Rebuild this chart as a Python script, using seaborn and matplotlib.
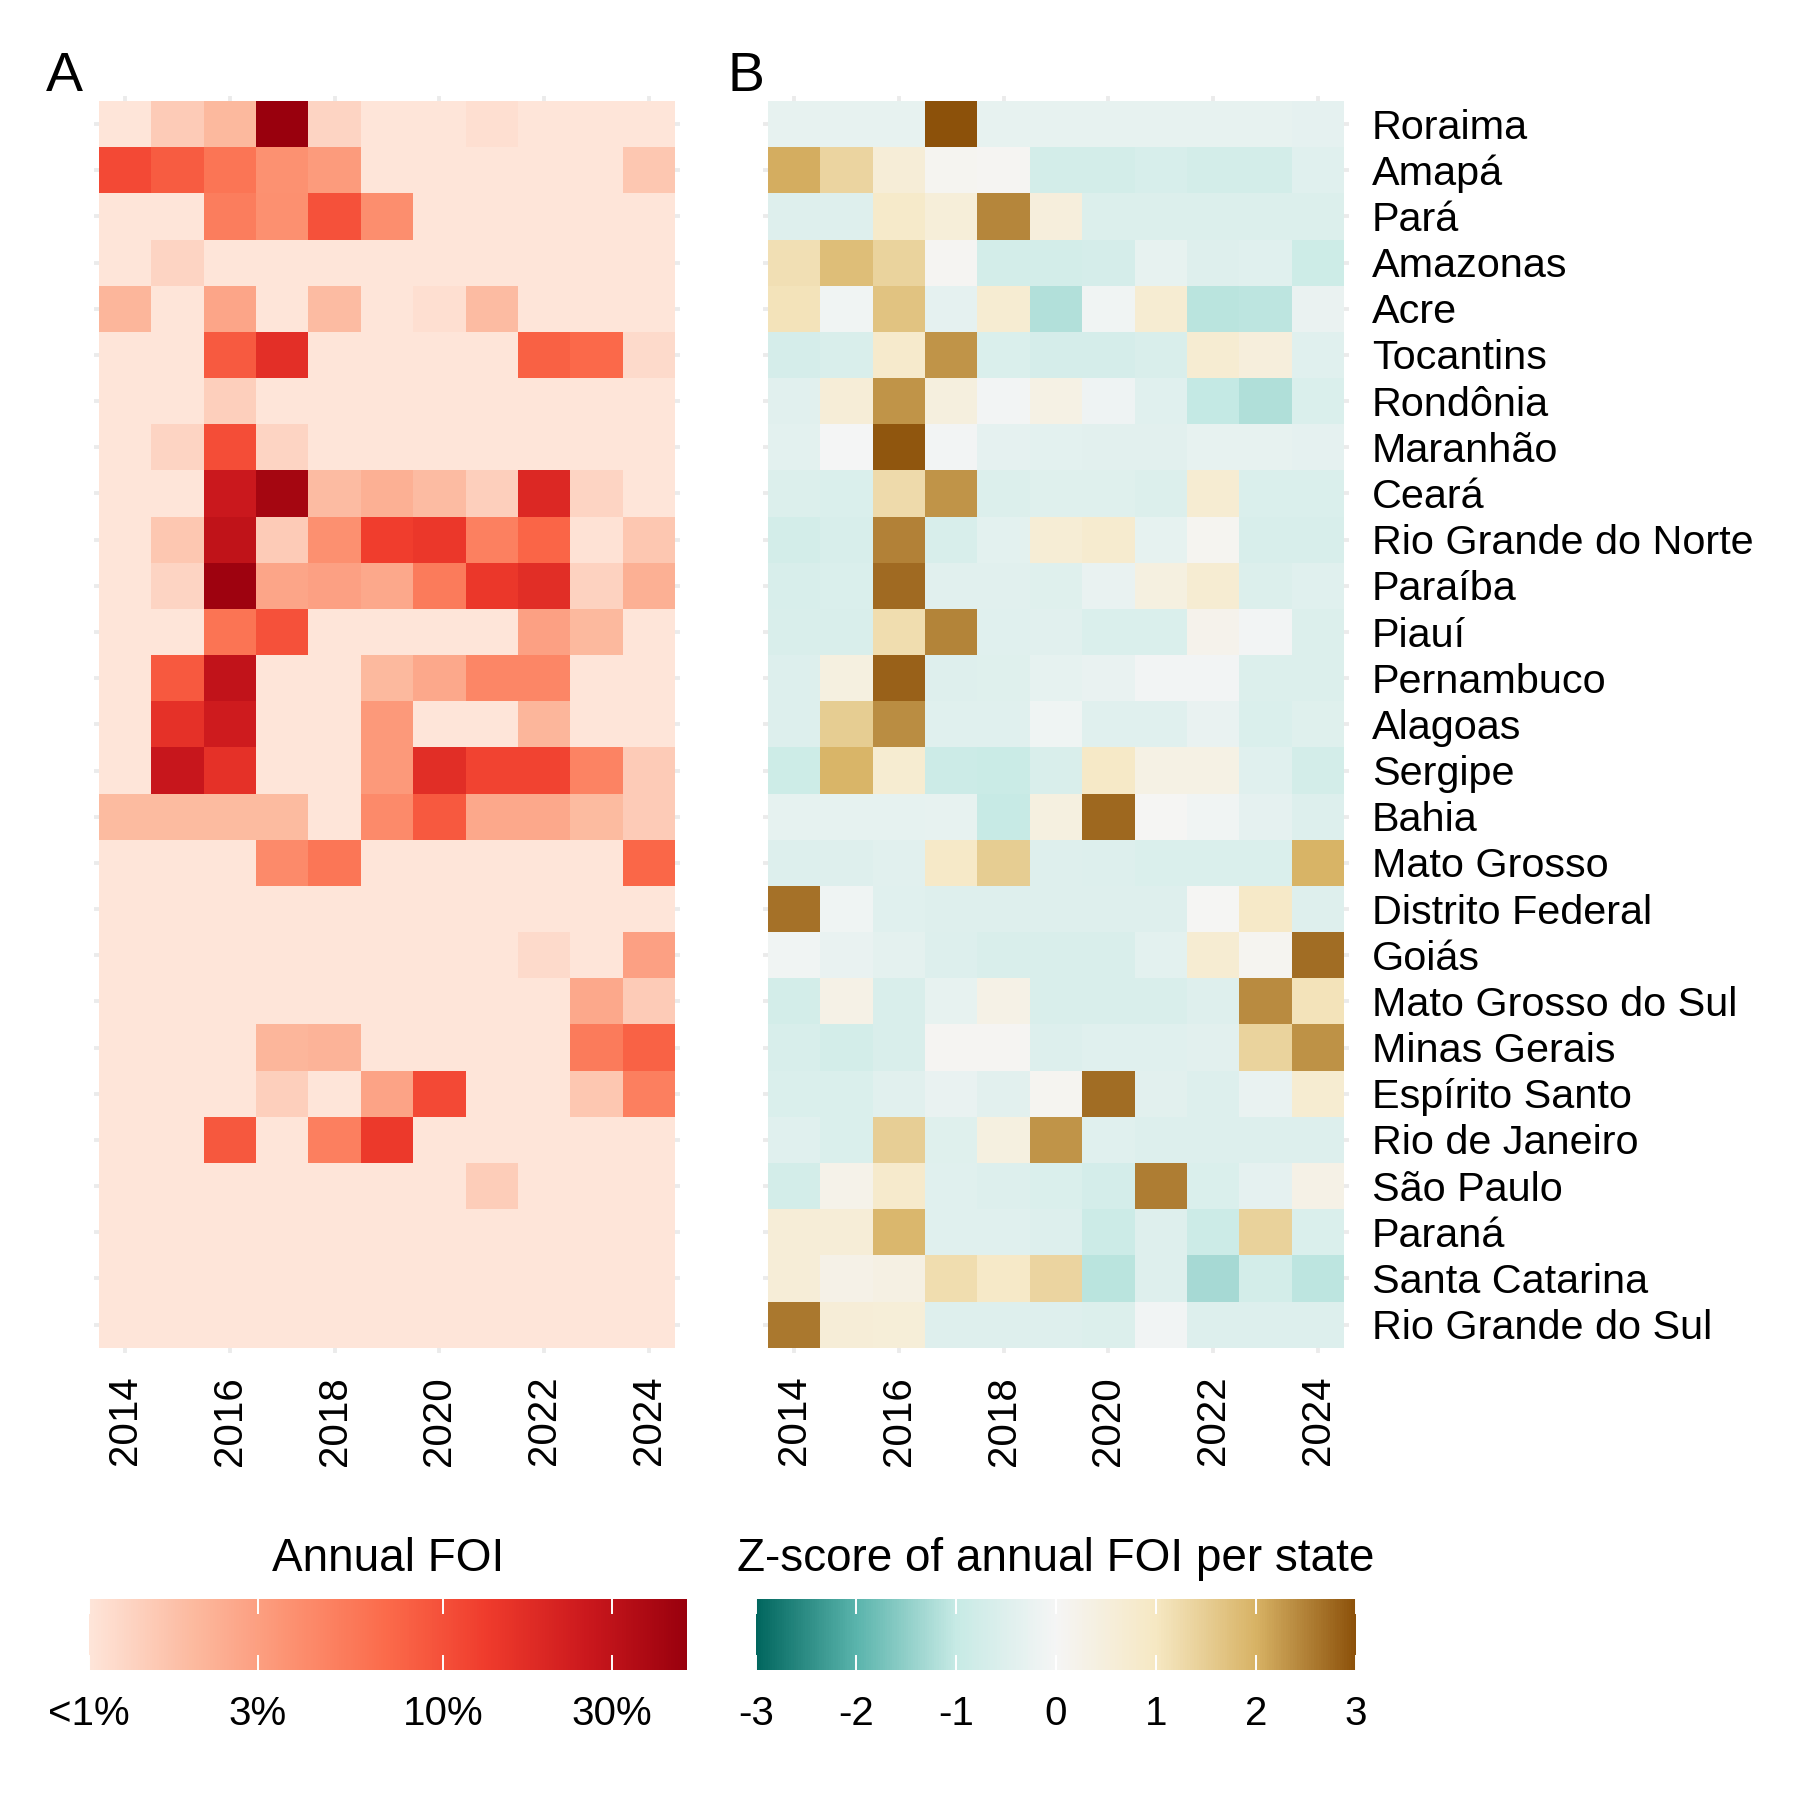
import numpy as np
import pandas as pd
import matplotlib
matplotlib.use("Agg")
import matplotlib.pyplot as plt
import matplotlib.transforms as mtransforms
import seaborn as sns
from matplotlib.colors import LinearSegmentedColormap, LogNorm, Normalize

plt.rcParams['font.family'] = ['Liberation Sans', 'DejaVu Sans']

years = list(range(2014, 2025))
states = ["Roraima", "Amapá", "Pará", "Amazonas", "Acre", "Tocantins", "Rondônia",
          "Maranhão", "Ceará", "Rio Grande do Norte", "Paraíba", "Piauí", "Pernambuco",
          "Alagoas", "Sergipe", "Bahia", "Mato Grosso", "Distrito Federal", "Goiás",
          "Mato Grosso do Sul", "Minas Gerais", "Espírito Santo", "Rio de Janeiro",
          "São Paulo", "Paraná", "Santa Catarina", "Rio Grande do Sul"]

L = 0.5  # below 1 %
# annual FOI in percent, one row per state (2014..2024)
foi_pct = [
    [L, 1.5, 2.0, 49, 1.3, L, L, 1.1, L, L, L],
    [11, 8.5, 5.9, 3.7, 3.2, L, L, L, L, L, 1.6],
    [L, L, 5.1, 3.8, 9.9, 3.9, L, L, L, L, L],
    [L, 1.3, L, L, L, L, L, L, L, L, L],
    [2.1, L, 2.7, L, 1.9, L, 1.1, 1.9, L, L, L],
    [L, L, 8.7, 16.6, L, L, L, L, 8.0, 7.0, 1.2],
    [L, L, 1.4, L, L, L, L, L, L, L, L],
    [L, 1.3, 10.5, 1.3, L, L, L, L, L, L, L],
    [L, L, 25.6, 42, 1.9, 2.3, 1.9, 1.4, 19, 1.3, L],
    [L, 1.6, 29.6, 1.5, 3.8, 13, 14.4, 4.9, 7.5, 1.05, 1.6],
    [L, 1.3, 46, 2.7, 2.9, 2.6, 5.3, 14.5, 17, 1.35, 2.3],
    [L, L, 6.0, 9.9, L, L, L, L, 2.9, 2.0, L],
    [L, 8.8, 29, L, L, 2.0, 2.6, 4.5, 4.5, L, L],
    [L, 16, 24, L, L, 3.3, L, L, 2.1, L, L],
    [L, 27, 16, L, L, 3.3, 17, 12, 12, 4.7, 1.5],
    [1.95, 1.95, 1.95, 1.95, L, 4.2, 8.8, 2.6, 2.6, 1.95, 1.5],
    [L, L, L, 4.2, 5.8, L, L, L, L, L, 7.3],
    [L, L, L, L, L, L, L, L, L, L, L],
    [L, L, L, L, L, L, L, L, 1.2, L, 2.9],
    [L, L, L, L, L, L, L, L, L, 2.6, 1.5],
    [L, L, L, 2.1, 2.2, L, L, L, L, 5.3, 7.8],
    [L, L, L, 1.4, L, 2.8, 11, L, L, 1.6, 5.0],
    [L, L, 9.0, L, 5.0, 14, L, L, L, L, L],
    [L, L, L, L, L, L, L, 1.45, L, L, L],
    [L, L, L, L, L, L, L, L, L, L, L],
    [L, L, L, L, L, L, L, L, L, L, L],
    [L, L, L, L, L, L, L, L, L, L, L],
]

# z-score of annual FOI per state (2014..2024)
zscore = [
    [-0.3, -0.3, -0.3, 3.0, -0.3, -0.3, -0.3, -0.3, -0.3, -0.3, -0.35],
    [2.05, 1.38, 0.6, 0.1, 0.05, -0.75, -0.75, -0.65, -0.75, -0.75, -0.45],
    [-0.5, -0.5, 0.85, 0.55, 2.45, 0.5, -0.55, -0.55, -0.55, -0.55, -0.55],
    [1.15, 1.8, 1.4, 0.05, -0.75, -0.75, -0.7, -0.3, -0.5, -0.45, -0.85],
    [1.1, -0.1, 1.7, -0.35, 0.7, -1.18, -0.1, 0.7, -1.12, -1.1, -0.25],
    [-0.7, -0.6, 0.8, 2.3, -0.57, -0.7, -0.7, -0.6, 0.7, 0.5, -0.45],
    [-0.43, 0.6, 2.3, 0.45, -0.05, 0.35, -0.15, -0.45, -1.03, -1.2, -0.58],
    [-0.38, -0.02, 2.95, -0.05, -0.33, -0.38, -0.4, -0.4, -0.3, -0.3, -0.35],
    [-0.55, -0.58, 1.25, 2.3, -0.55, -0.48, -0.48, -0.55, 0.7, -0.57, -0.58],
    [-0.75, -0.63, 2.5, -0.63, -0.38, 0.65, 0.75, -0.32, 0.1, -0.62, -0.62],
    [-0.62, -0.58, 2.72, -0.43, -0.43, -0.47, -0.27, 0.4, 0.68, -0.55, -0.45],
    [-0.6, -0.6, 1.2, 2.48, -0.45, -0.43, -0.57, -0.57, 0.2, -0.05, -0.55],
    [-0.53, 0.4, 2.82, -0.5, -0.48, -0.32, -0.26, -0.05, -0.05, -0.55, -0.55],
    [-0.53, 1.52, 2.38, -0.45, -0.45, -0.12, -0.45, -0.45, -0.28, -0.57, -0.48],
    [-0.85, 1.95, 0.72, -0.87, -0.93, -0.6, 0.92, 0.35, 0.35, -0.45, -0.75],
    [-0.32, -0.32, -0.32, -0.3, -1.0, 0.4, 2.75, 0.03, -0.1, -0.33, -0.53],
    [-0.53, -0.5, -0.43, 0.9, 1.5, -0.5, -0.52, -0.58, -0.58, -0.58, 1.98],
    [2.65, -0.12, -0.45, -0.5, -0.5, -0.5, -0.5, -0.5, 0.03, 0.9, -0.5],
    [-0.1, -0.28, -0.37, -0.52, -0.6, -0.6, -0.6, -0.38, 0.68, 0.1, 2.7],
    [-0.75, 0.3, -0.6, -0.3, 0.3, -0.6, -0.6, -0.6, -0.5, 2.4, 1.1],
    [-0.63, -0.73, -0.6, 0.07, 0.07, -0.53, -0.45, -0.45, -0.4, 1.4, 2.33],
    [-0.58, -0.58, -0.43, -0.28, -0.4, 0.1, 2.7, -0.4, -0.52, -0.26, 0.72],
    [-0.45, -0.57, 1.48, -0.48, 0.4, 2.3, -0.45, -0.53, -0.53, -0.53, -0.53],
    [-0.75, 0.25, 0.82, -0.45, -0.52, -0.58, -0.72, 2.55, -0.58, -0.35, 0.3],
    [0.6, 0.6, 1.92, -0.45, -0.45, -0.53, -0.88, -0.5, -0.87, 1.42, -0.58],
    [0.6, 0.27, 0.37, 1.2, 0.9, 1.38, -1.12, -0.5, -1.3, -0.75, -1.08],
    [2.58, 0.6, 0.58, -0.5, -0.5, -0.5, -0.55, -0.08, -0.52, -0.52, -0.52],
]

foi_ticks = [1, 3, 10, 30]
foi_ticklabels = ["<1%", "3%", "10%", "30%"]
z_ticks = [-3, -2, -1, 0, 1, 2, 3]

df_foi = pd.DataFrame(foi_pct, index=states, columns=years)
df_z = pd.DataFrame(zscore, index=states, columns=years)

reds = LinearSegmentedColormap.from_list(
    "reds7", ['#FEE5D9', '#FCBBA1', '#FC9272', '#FB6A4A', '#EF3B2C', '#CB181D', '#99000D'], N=256)
brbg = LinearSegmentedColormap.from_list(
    "brbg7r", ['#01665E', '#5AB4AC', '#C7EAE5', '#F5F5F5', '#F6E8C3', '#D8B365', '#8C510A'], N=256)
norm_foi = LogNorm(vmin=1, vmax=49, clip=True)
norm_z = Normalize(vmin=-3, vmax=3)

W = H = 1800.0
def fx(px): return px / W
def fy(px): return 1 - px / H

fig = plt.figure(figsize=(9, 9), dpi=200)
fig.patch.set_facecolor('white')

ex, ey = 0.1, 0.11
colw = 576 / 11
rowh = 1246.7 / 27
top_px, bot_px = 101 - ey * rowh, 1347.7 + ey * rowh
axA = fig.add_axes([fx(99 - ex * colw), fy(bot_px), (576 + 2 * ex * colw) / W, (bot_px - top_px) / H])
axB = fig.add_axes([fx(768 - ex * colw), fy(bot_px), (576 + 2 * ex * colw) / W, (bot_px - top_px) / H])

sns.heatmap(df_foi, ax=axA, cmap=reds, norm=norm_foi, cbar=False,
            xticklabels=2, yticklabels=True, linewidths=0)
sns.heatmap(df_z, ax=axB, cmap=brbg, norm=norm_z, cbar=False,
            xticklabels=2, yticklabels=True, linewidths=0)

for ax in (axA, axB):
    ax.set_xlim(-ex, 11 + ex)
    ax.set_ylim(27 + ey, -ey)
    ax.set_xlabel('')
    ax.set_ylabel('')
    ax.grid(True, color='#EBEBEB', lw=1.4)
    ax.set_axisbelow(True)
    for c in ax.collections:
        c.set_zorder(2)
    ax.tick_params(length=0)
    ax.tick_params(axis='x', pad=8.3, labelsize=14.5)
    plt.setp(ax.get_xticklabels(), rotation=90, ha='center', va='top')
    for s in ax.spines.values():
        s.set_visible(False)

axA.tick_params(axis='y', labelleft=False)
axB.yaxis.tick_right()
axB.tick_params(axis='y', labelright=True, labelleft=False, length=0, pad=8.1, labelsize=14.9)
shift = mtransforms.ScaledTranslation(0, -3.5 / 200, fig.dpi_scale_trans)
for lab in axB.get_yticklabels():
    lab.set_rotation(0)
    lab.set_ha('left')
    lab.set_va('center')
    lab.set_transform(lab.get_transform() + shift)

fig.text(fx(46), fy(91), 'A', fontsize=20, ha='left', va='baseline')
fig.text(fx(728), fy(91), 'B', fontsize=20, ha='left', va='baseline')

# colorbars
caxA = fig.add_axes([fx(89), fy(1670.3), 598 / W, 71.6 / H])
caxB = fig.add_axes([fx(756), fy(1670.3), 600 / W, 71.6 / H])
cbA = fig.colorbar(axA.collections[0], cax=caxA, orientation='horizontal')
cbB = fig.colorbar(axB.collections[0], cax=caxB, orientation='horizontal')
cbA.set_ticks(foi_ticks)
cbA.set_ticklabels(foi_ticklabels)
cbB.set_ticks(z_ticks)
cbB.set_ticklabels([str(t) for t in z_ticks])
for cb in (cbA, cbB):
    cb.minorticks_off()
    cb.outline.set_visible(False)
    cb.ax.tick_params(axis='x', which='both', direction='in', top=True, bottom=True,
                      length=5.4, width=0.7, color='white', labelsize=14.5, pad=8.9)

fig.text(fx(388), fy(1571), 'Annual FOI', fontsize=16.5, ha='center', va='baseline')
fig.text(fx(1056), fy(1571), 'Z-score of annual FOI per state', fontsize=16.5, ha='center', va='baseline')

fig.savefig('out.png', dpi=200, facecolor='white')
